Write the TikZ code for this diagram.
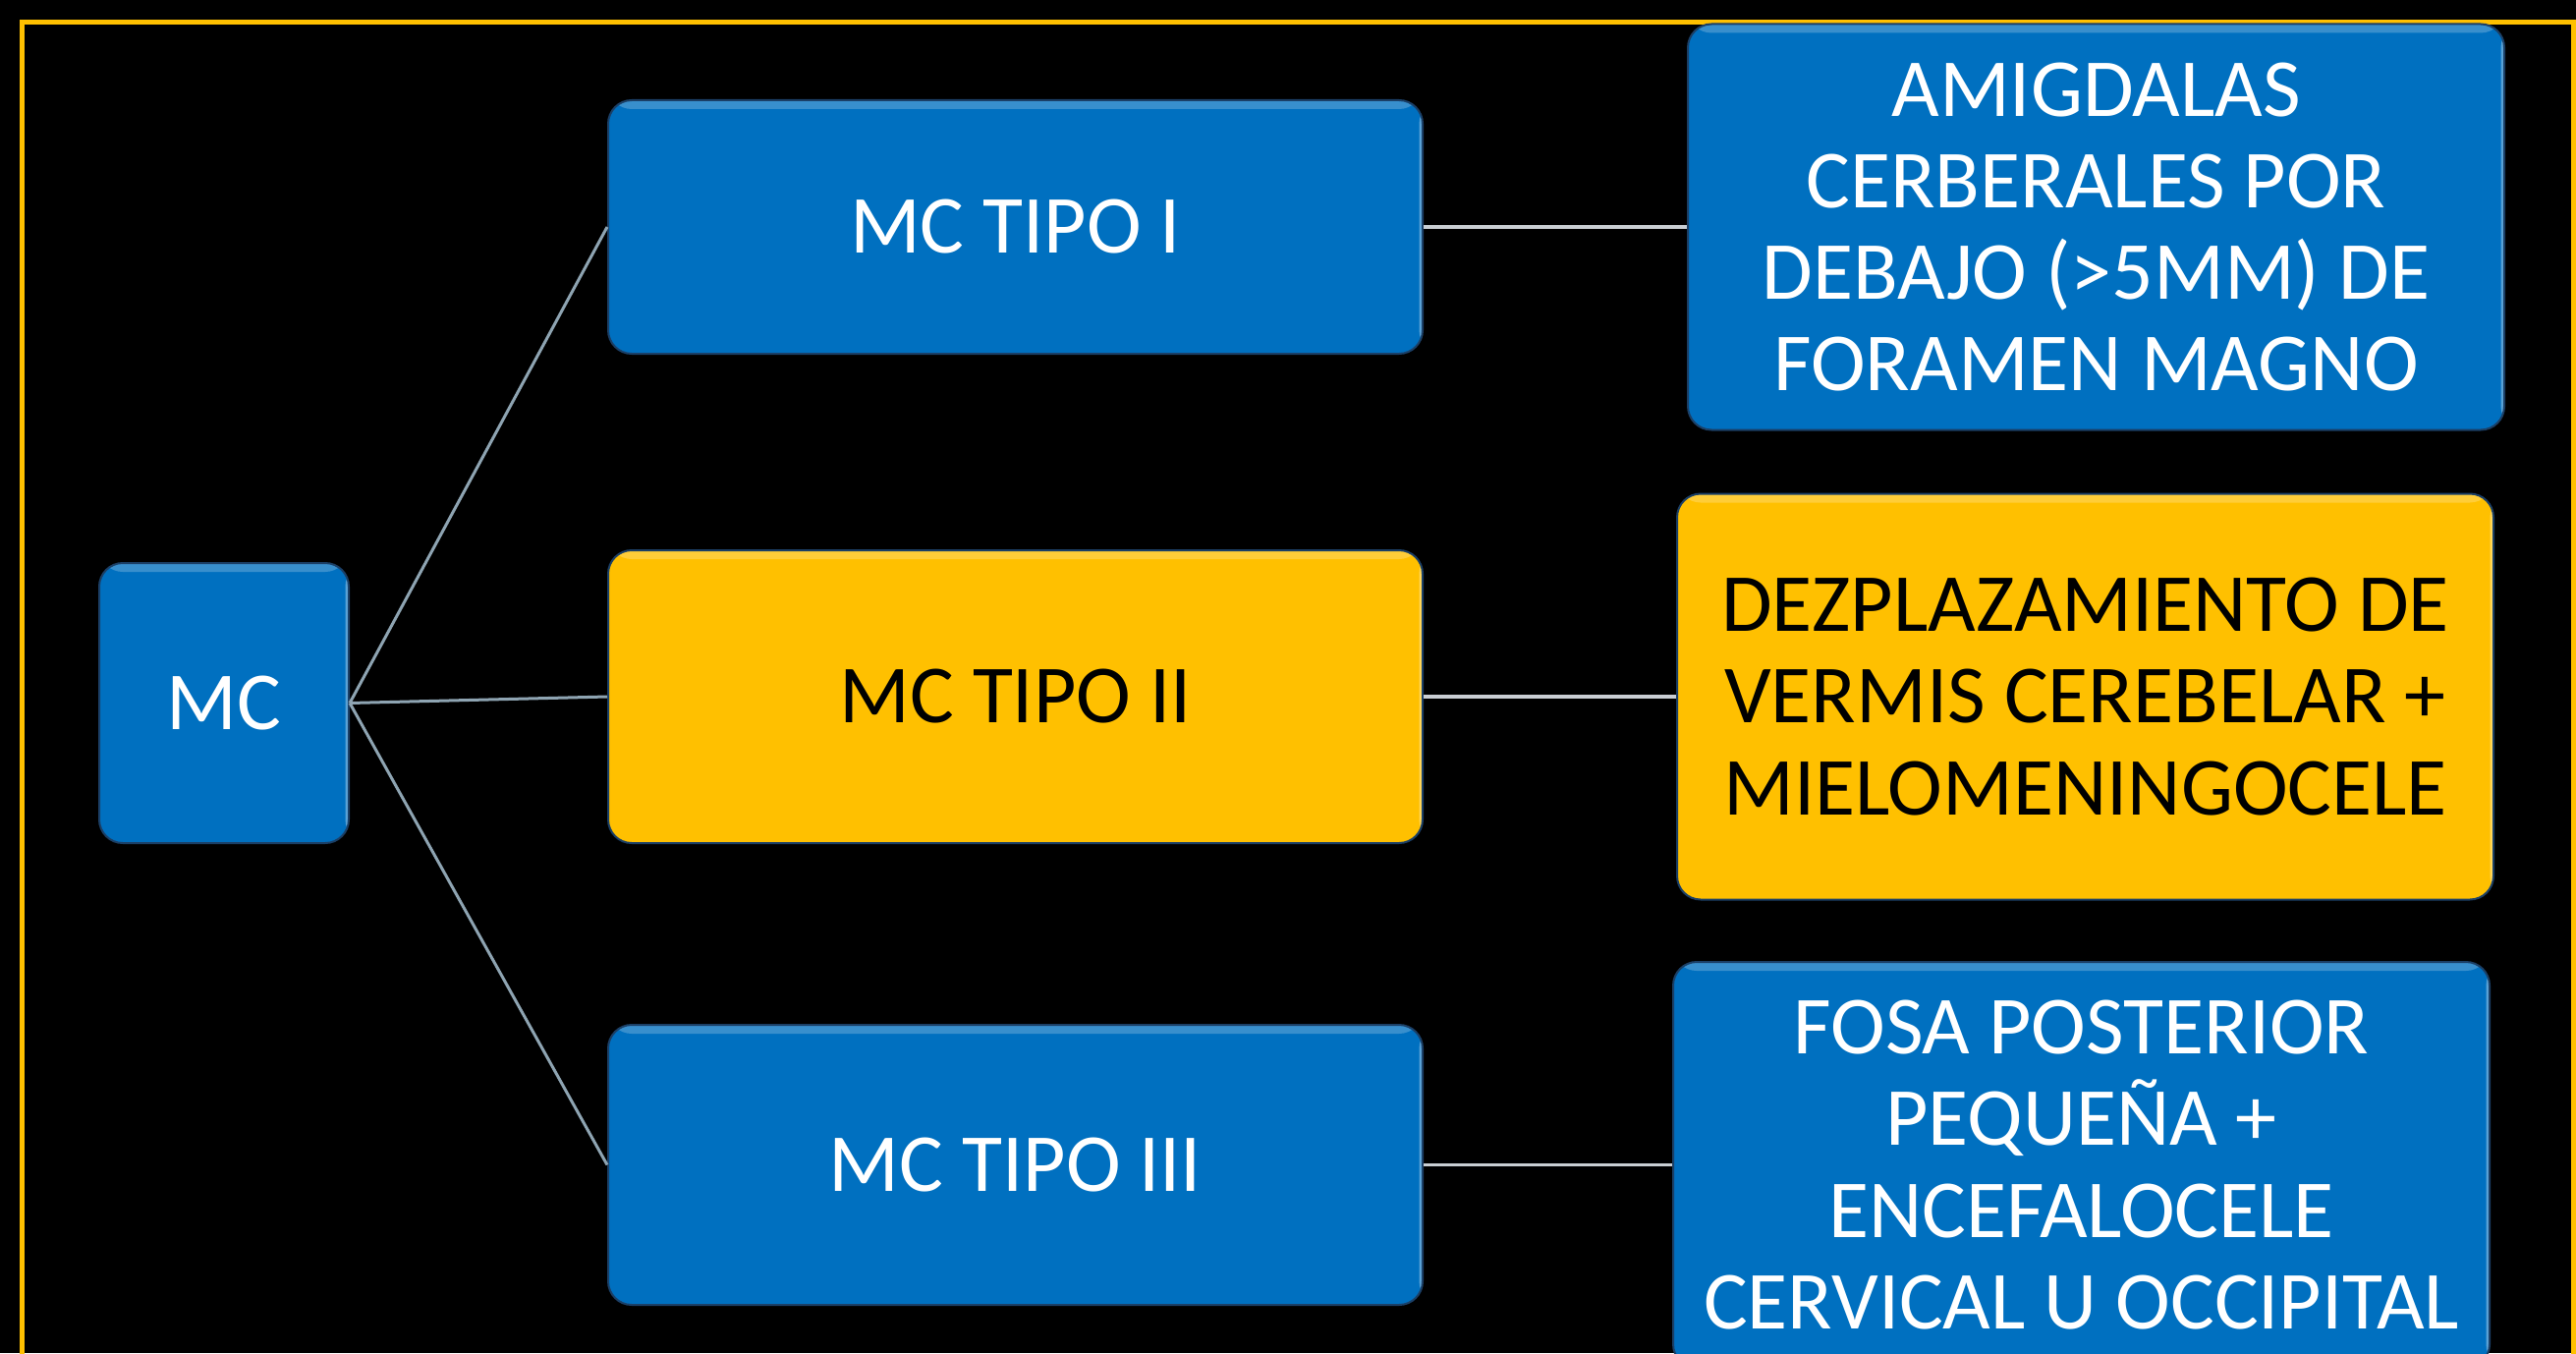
\documentclass[tikz,border=0pt]{standalone}
\usepackage{fontspec}
\setmainfont{Carlito}
\usetikzlibrary{positioning}
\definecolor{mcblue}{HTML}{0070C0}
\definecolor{mcgold}{HTML}{FFC000}
\definecolor{mcedge}{HTML}{1B3F66}
\definecolor{linkgray}{HTML}{8EA4B2}
\definecolor{linklight}{HTML}{C9CED3}

\begin{document}
\begin{tikzpicture}[font=\fontsize{23.9}{26.5}\selectfont,
  box/.style={draw=mcedge, line width=0.2mm, rounded corners=2.4mm, align=center, inner sep=0pt,
    path picture={\fill[white, opacity=.22] (path picture bounding box.north west)
      rectangle ([yshift=-0.9mm]path picture bounding box.north east);
      \fill[white, opacity=.35] ([xshift=-0.35mm]path picture bounding box.north east)
      rectangle (path picture bounding box.south east);}},
  bluebox/.style={box, fill=mcblue, text=white},
  goldbox/.style={box, fill=mcgold, text=black},
  tipo/.style={minimum width=82.9mm},
  note/.style={minimum width=83.1mm, minimum height=41.3mm},
  link/.style={draw=linkgray, line width=0.3mm},
  hlink/.style={draw=linklight, line width=0.35mm}]
  \useasboundingbox[fill=black] (0,0) rectangle (262.2mm,-137.7mm);
  \clip (0,0) rectangle (262.2mm,-137.7mm);
  \draw[mcgold, line width=0.5mm] (2.2mm,-2.3mm) rectangle (261.9mm,-145mm);
  % left column
  \node[bluebox, minimum width=25.4mm, minimum height=28.5mm] (mc) at (22.8mm,-71.55mm) {MC};
  % types
  \node[bluebox, tipo, minimum height=25.8mm] (tipo1) at (103.35mm,-23.1mm) {MC TIPO I};
  \node[goldbox, tipo, minimum height=29.8mm, below=19.8mm of tipo1] (tipo2) {MC TIPO II};
  \node[bluebox, tipo, minimum height=28.5mm, below=18.3mm of tipo2] (tipo3) {MC TIPO III};
  % descriptions
  \node[bluebox, note, right=26.8mm of tipo1] (amig) {AMIGDALAS\\CERBERALES POR\\DEBAJO (>5MM) DE\\FORAMEN MAGNO};
  \node[goldbox, note, right=25.7mm of tipo2] (vermis) {DEZPLAZAMIENTO DE\\VERMIS CEREBELAR +\\MIELOMENINGOCELE};
  \node[bluebox, note, right=25.3mm of tipo3] (fosa) {FOSA POSTERIOR\\PEQUEÑA +\\ENCEFALOCELE\\CERVICAL U OCCIPITAL};
  \draw[link] (mc.east) -- (tipo1.west);
  \draw[link] (mc.east) -- (tipo2.west);
  \draw[link] (mc.east) -- (tipo3.west);
  \draw[hlink] (tipo1.east) -- (amig.west);
  \draw[hlink] (tipo2.east) -- (vermis.west);
  \draw[hlink] (tipo3.east) -- (fosa.west);
\end{tikzpicture}
\end{document}
